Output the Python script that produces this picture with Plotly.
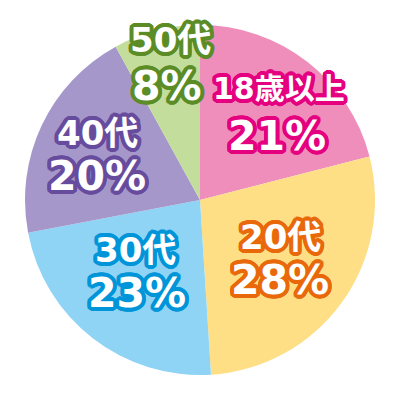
import math
import plotly.graph_objects as go

categories = ["18歳以上", "20代", "30代", "40代", "50代"]
values = [21, 28, 23, 20, 8]
slice_colors = ["#EF8EBA", "#FEDF86", "#8FD3F5", "#A597C9", "#C3DD9C"]
outline_colors = ["#E4007F", "#E8680A", "#0095D9", "#674C9E", "#5B8C26"]
# label layout (pixels of the target picture) and name font sizes
name_pos = [(279, 88), (280, 237), (136, 250), (97, 133), (170, 40)]
pct_pos = [(277, 136), (280, 280), (137, 293), (97, 176), (167, 86)]
name_size = [30, 34, 34, 34, 34]

OFF = 8  # page body margin of the browser
W = H = 400 - OFF

def outline(color, r=3.8, n=28):
    parts = []
    for i in range(n):
        a = 2 * math.pi * i / n
        parts.append(f"{r*math.cos(a):.2f}px {r*math.sin(a):.2f}px 0 {color}")
    for i in range(n // 2):
        a = 2 * math.pi * i / (n // 2)
        parts.append(f"{2.0*math.cos(a):.2f}px {2.0*math.sin(a):.2f}px 0 {color}")
    return ", ".join(parts)

def px_x(v):
    return (v - OFF) / W

def px_y(v):
    return 1 - (v - OFF) / H

fig = go.Figure(go.Pie(
    labels=categories,
    values=values,
    sort=False,
    direction="clockwise",
    rotation=0,
    marker=dict(colors=slice_colors, line=dict(width=0)),
    textinfo="none",
    hoverinfo="label+percent",
    domain=dict(x=[px_x(25), px_x(375)], y=[px_y(375), px_y(25)]),
    showlegend=False,
))

FONT = "DejaVu Sans, Noto Sans CJK JP, sans-serif"
anns = []
for cat, val, oc, (nx, ny), (px, py), ns in zip(categories, values, outline_colors,
                                                name_pos, pct_pos, name_size):
    anns.append(dict(
        x=px_x(nx), y=px_y(ny), xref="paper", yref="paper",
        text=cat, showarrow=False, xanchor="center", yanchor="middle",
        font=dict(family=FONT, size=ns, color="white", weight="bold", shadow=outline(oc)),
    ))
    anns.append(dict(
        x=px_x(px), y=px_y(py), xref="paper", yref="paper",
        text=f"{val}%", showarrow=False, xanchor="center", yanchor="middle",
        font=dict(family=FONT, size=41, color="white", weight="bold", shadow=outline(oc)),
    ))

fig.update_layout(
    width=W, height=H,
    margin=dict(l=0, r=0, t=0, b=0),
    paper_bgcolor="white",
    plot_bgcolor="white",
    annotations=anns,
)

fig.write_html("out.html")
